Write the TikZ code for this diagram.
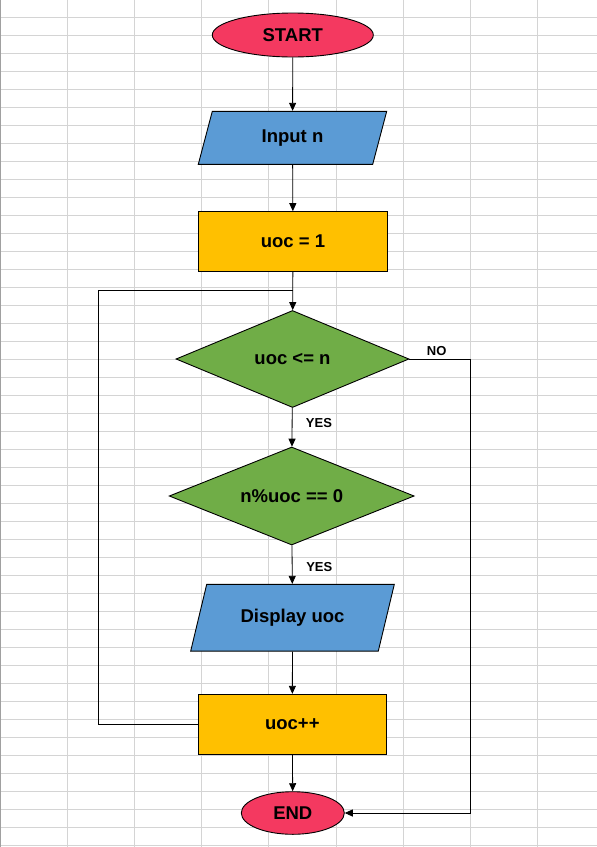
\documentclass[tikz,border=0pt]{standalone}
\usepackage{fontspec}
\setmainfont{Liberation Sans}
\usetikzlibrary{shapes.geometric,arrows.meta,calc}
\definecolor{gridc}{RGB}{212,212,212}
\definecolor{gridedge}{RGB}{160,160,160}
\definecolor{termc}{RGB}{244,57,96}
\definecolor{ioc}{RGB}{91,155,213}
\definecolor{procc}{RGB}{255,192,0}
\definecolor{decc}{RGB}{112,173,71}
\tikzset{
  base/.style={draw=black, line width=0.9pt, inner sep=0pt, align=center,
    font=\fontsize{18.5}{22}\selectfont\bfseries},
  term/.style={base, ellipse, fill=termc},
  iobox/.style={base, rectangle, draw=none},
  ioshape/.style={draw=black, line width=0.9pt, fill=ioc},
  proc/.style={base, rectangle, fill=procc},
  dec/.style={base, diamond, aspect=2.5, fill=decc},
  lbl/.style={inner sep=0pt, font=\fontsize{13}{15}\selectfont\bfseries},
  conn/.style={draw=black, line width=0.8pt},
  arr/.style={conn, -{Triangle[length=8pt,width=7pt]}},
  gridline/.style={draw=gridc, line width=1pt}
}
\begin{document}
\begin{tikzpicture}[x=1pt,y=-1pt]
\useasboundingbox (0,0) rectangle (597,847);
\fill[white] (0,0) rectangle (597,847);
% spreadsheet grid
\foreach \k in {0,...,46} { \draw[gridline] (0,17.3+18*\k) -- (597,17.3+18*\k); }
\foreach \k in {1,...,8} { \draw[gridline] (67.2*\k,0) -- (67.2*\k,847); }
\draw[draw=gridedge, line width=1.2pt] (0.6,0) -- (0.6,847);

% parallelogram outlines (drawn first, text nodes on top)
\path (292.5,137.8) coordinate (inC) (292.5,617.7) coordinate (dispC);
\filldraw[ioshape] ($(inC)+(-94.2,26.5)$) -- ($(inC)+(-80.2,-26.5)$) -- ($(inC)+(94.2,-26.5)$) -- ($(inC)+(80.2,26.5)$) -- cycle;
\filldraw[ioshape] ($(dispC)+(-101.8,33.35)$) -- ($(dispC)+(-85.8,-33.35)$) -- ($(dispC)+(101.8,-33.35)$) -- ($(dispC)+(85.8,33.35)$) -- cycle;

% nodes
\node[term, minimum width=161pt, minimum height=44pt] (start) at (292.8,35) {START};
\node[iobox, minimum width=188.4pt, minimum height=53pt] (in) at (inC) {Input n};
\node[proc, minimum width=189.4pt, minimum height=59.3pt] (init) at (293,241.3) {uoc = 1};
\node[dec, minimum width=233pt, minimum height=97pt] (d1) at (292.5,359) {uoc <= n};
\node[dec, minimum width=245pt, minimum height=98pt] (d2) at (291.7,496) {n\%uoc == 0};
\node[iobox, minimum width=203.6pt, minimum height=66.7pt] (disp) at (dispC) {Display uoc};
\node[proc, minimum width=188pt, minimum height=60pt] (inc) at (292.3,724.3) {uoc++};
\node[term, minimum width=103pt, minimum height=42.6pt] (end) at (292.8,813) {END};

% labels
\node[lbl] (no) at (436.7,351) {NO};
\node[lbl] (yes1) at (319,423) {YES};
\node[lbl] (yes2) at (319.3,567.3) {YES};

% helper coordinates
\coordinate (merge) at (292.7,290.3);
\coordinate (loopc) at (98.3,290.3);
\coordinate (noc) at (470,813);

% connectors
\draw[arr] (start) -- (in);
\draw[arr] (in) -- (init);
\draw[arr] (init) -- (d1);
\draw[conn] (inc.west) -| (loopc) -- (merge);
\draw[arr] (d1) -- (d2);
\draw[arr] (d2) -- (disp);
\draw[arr] (disp) -- (inc);
\draw[arr] (inc) -- (end);
\draw[arr] (d1.east) -| (noc) -- (end.east);
\end{tikzpicture}
\end{document}
